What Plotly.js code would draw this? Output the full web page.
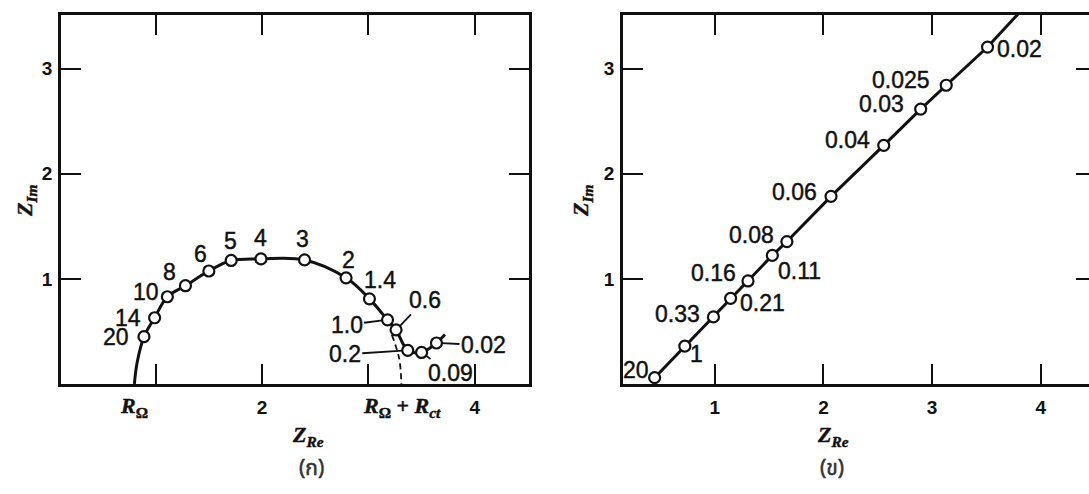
<!DOCTYPE html>
<html>
<head>
<meta charset="utf-8">
<script src="https://cdn.plot.ly/plotly-3.0.1.min.js"></script>
<style>
  html, body { margin: 0; padding: 0; background: #fff; overflow: hidden; }
  #chart { width: 1100px; height: 494px; }
  .annotation-text { paint-order: stroke; stroke: #111; stroke-width: 0.45px; }
</style>
</head>
<body>
<div id="chart"></div>
<script>
// ---------- DATA ----------
// Panel (ก): Nyquist plot with semicircle + Warburg tail; labels are frequencies
const leftLabels = ['20', '14', '10', '8', '6', '5', '4', '3', '2', '1.4', '1.0', '0.6', '0.2', '0.09', '0.02'];
const leftZRe    = [0.89, 0.99, 1.11, 1.28, 1.50, 1.71, 1.99, 2.40, 2.79, 3.01, 3.18, 3.26, 3.37, 3.50, 3.64];
const leftZIm    = [0.45, 0.63, 0.83, 0.935, 1.075, 1.175, 1.19, 1.18, 1.01, 0.81, 0.61, 0.515, 0.32, 0.30, 0.39];
// curve start (at R_Omega on the axis) and end of the drawn curve
const leftCurveStartZRe = [0.80, 0.825];
const leftCurveStartZIm = [0.00, 0.20];
const leftCurveEndZRe = [3.72];
const leftCurveEndZIm = [0.47];
// dashed continuation of the semicircle down to R_Omega + R_ct
const leftDashZRe = [3.22, 3.29, 3.31];
const leftDashZIm = [0.47, 0.24, 0.00];
// special x-axis labels
const rOhm = 0.80;
const rOhmPlusRct = 3.32;
const leftXTickVals = [1, 2, 3, 4];
const leftXTickText = ['', '2', '', '4'];

// Panel (ข): straight line
const rightLabels = ['20', '1', '0.33', '0.21', '0.16', '0.11', '0.08', '0.06', '0.04', '0.03', '0.025', '0.02'];
const rightZRe    = [0.447, 0.725, 0.988, 1.146, 1.306, 1.53, 1.664, 2.07, 2.555, 2.895, 3.13, 3.51];
const rightZIm    = [0.06, 0.36, 0.638, 0.815, 0.98, 1.223, 1.355, 1.785, 2.27, 2.615, 2.842, 3.205];
const rightLineEndZRe = [3.80];
const rightLineEndZIm = [3.53];
const rightXTickVals = [1, 2, 3, 4];
const rightXTickText = ['1', '2', '3', '4'];
const yTickVals = [1, 2, 3];
const yTickText = ['1', '2', '3'];

// ---------- STYLE / LABEL PLACEMENT ----------
const INK = '#111';
const W = 1100, H = 494;
const labelFont = {family: 'Liberation Sans, Arial, sans-serif', size: 23, color: INK};
// [xshift, yshift] in px, for labels without leader lines
const leftShift = {
  '20': [-28, 0], '14': [-27, 0], '10': [-21, 5], '8': [-16, 14], '6': [-8, 17],
  '5': [-1, 19], '4': [0, 21], '3': [-2, 21], '2': [2, 18], '1.4': [11, 19]
};
// [ax, ay] px offsets of text for labels with leader lines
const leftLeader = {
  '1.0': [-41, 5], '0.6': [29, -30], '0.2': [-63, 4], '0.09': [29, 21], '0.02': [47, 2]
};
const rightShift = [
  [-19, 8], [12, -8], [-36, 3], [32, -5], [-34, 8], [27, -16], [-35, 7],
  [-37, 4], [-36, 5], [-39, 5], [-45, 5], [32, -2]
];

const traces = [
  { // left curve
    x: leftCurveStartZRe.concat(leftZRe, leftCurveEndZRe),
    y: leftCurveStartZIm.concat(leftZIm, leftCurveEndZIm),
    xaxis: 'x', yaxis: 'y', mode: 'lines', type: 'scatter',
    line: {color: INK, width: 3, shape: 'spline', smoothing: 1}, hoverinfo: 'skip'
  },
  { // dashed semicircle continuation
    x: leftDashZRe, y: leftDashZIm, xaxis: 'x', yaxis: 'y', mode: 'lines', type: 'scatter',
    line: {color: INK, width: 1.8, dash: '6px,4px', shape: 'spline'}, hoverinfo: 'skip'
  },
  { // left markers
    x: leftZRe, y: leftZIm, xaxis: 'x', yaxis: 'y', mode: 'markers', type: 'scatter',
    cliponaxis: false,
    marker: {symbol: 'circle', size: 11, color: '#fff', line: {color: INK, width: 2.2}}
  },
  { // right line
    x: rightZRe.concat(rightLineEndZRe), y: rightZIm.concat(rightLineEndZIm),
    xaxis: 'x2', yaxis: 'y2', mode: 'lines', type: 'scatter',
    line: {color: INK, width: 3}, hoverinfo: 'skip'
  },
  { // right markers
    x: rightZRe, y: rightZIm, xaxis: 'x2', yaxis: 'y2', mode: 'markers', type: 'scatter',
    cliponaxis: false,
    marker: {symbol: 'circle', size: 11, color: '#fff', line: {color: INK, width: 2.2}}
  }
];

const annotations = [];
leftLabels.forEach((lab, i) => {
  if (leftShift[lab]) {
    annotations.push({xref: 'x', yref: 'y', x: leftZRe[i], y: leftZIm[i], text: lab,
      showarrow: false, xshift: leftShift[lab][0], yshift: leftShift[lab][1], font: labelFont});
  } else if (leftLeader[lab]) {
    annotations.push({xref: 'x', yref: 'y', x: leftZRe[i], y: leftZIm[i], text: lab,
      showarrow: true, arrowhead: 0, arrowwidth: 1.8, arrowcolor: INK, standoff: 5,
      ax: leftLeader[lab][0], ay: leftLeader[lab][1], font: labelFont});
  }
});
rightLabels.forEach((lab, i) => {
  annotations.push({xref: 'x2', yref: 'y2', x: rightZRe[i], y: rightZIm[i], text: lab,
    showarrow: false, xshift: rightShift[i][0], yshift: rightShift[i][1], font: labelFont});
});

const serifBI = {family: 'Liberation Serif, Times New Roman, serif', size: 22, color: INK};
annotations.push({xref: 'x', yref: 'y', x: rOhm, y: 0, yshift: -23, showarrow: false,
  text: '<b><i>R</i><sub>Ω</sub></b>', font: serifBI});
annotations.push({xref: 'x', yref: 'y', x: rOhmPlusRct, y: 0, yshift: -23, showarrow: false,
  text: '<b><i>R</i><sub>Ω</sub> + <i>R</i><sub><i>ct</i></sub></b>', font: serifBI});

const titleFont = {family: 'Liberation Serif, Times New Roman, serif', size: 22, color: INK};
const zRe = '<b><i>Z</i><sub><i>Re</i></sub></b>';
const zIm = '<b><i>Z</i><sub><i>Im</i></sub></b>';
annotations.push({xref: 'paper', yref: 'paper', x: 290 / W, y: 1 - 452 / H, text: zRe, showarrow: false, font: titleFont});
annotations.push({xref: 'paper', yref: 'paper', x: 851 / W, y: 1 - 452 / H, text: zRe, showarrow: false, font: titleFont});
annotations.push({xref: 'paper', yref: 'paper', x: 10 / W, y: 1 - 201 / H, text: zIm, textangle: -90, showarrow: false, font: titleFont});
annotations.push({xref: 'paper', yref: 'paper', x: 582 / W, y: 1 - 201 / H, text: zIm, textangle: -90, showarrow: false, font: titleFont});

const capFont = {family: 'Noto Sans Thai, Loma, Garuda, Noto Sans, DejaVu Sans, sans-serif', size: 21, color: '#333'};
annotations.push({xref: 'paper', yref: 'paper', x: 297 / W, y: 1 - 486 / H, text: '(ก)', showarrow: false, font: capFont});
annotations.push({xref: 'paper', yref: 'paper', x: 846 / W, y: 1 - 486 / H, text: '(ข)', showarrow: false, font: capFont});

const axisCommon = {
  ticks: 'inside', ticklen: 20, tickwidth: 2, tickcolor: INK,
  showline: true, linewidth: 2.8, linecolor: INK, mirror: 'ticks',
  showgrid: false, zeroline: false, fixedrange: true,
  tickfont: {family: 'Liberation Sans, Arial, sans-serif', size: 19, color: INK, weight: 'bold'}
};
const yDomain = [1 - 384 / H, 1 - 15 / H];

const layout = {
  width: W, height: H,
  margin: {l: 0, r: 0, t: 0, b: 0},
  paper_bgcolor: '#fff', plot_bgcolor: '#fff',
  showlegend: false,
  xaxis: Object.assign({}, axisCommon, {domain: [61 / W, 529 / W], range: [0.11, 4.51],
    tickmode: 'array', tickvals: leftXTickVals, ticktext: leftXTickText, anchor: 'y', ticklabelstandoff: 4}),
  yaxis: Object.assign({}, axisCommon, {domain: yDomain, range: [0, 3.51],
    tickmode: 'array', tickvals: yTickVals, ticktext: yTickText, anchor: 'x', ticklabelstandoff: 2}),
  xaxis2: Object.assign({}, axisCommon, {domain: [623 / W, 1096 / W], range: [0.156, 4.508],
    tickmode: 'array', tickvals: rightXTickVals, ticktext: rightXTickText, anchor: 'y2', ticklabelstandoff: 4}),
  yaxis2: Object.assign({}, axisCommon, {domain: yDomain, range: [0, 3.51],
    tickmode: 'array', tickvals: yTickVals, ticktext: yTickText, anchor: 'x2', ticklabelstandoff: 2}),
  annotations: annotations
};

Plotly.newPlot('chart', traces, layout, {displayModeBar: false, staticPlot: true});
</script>
</body>
</html>
